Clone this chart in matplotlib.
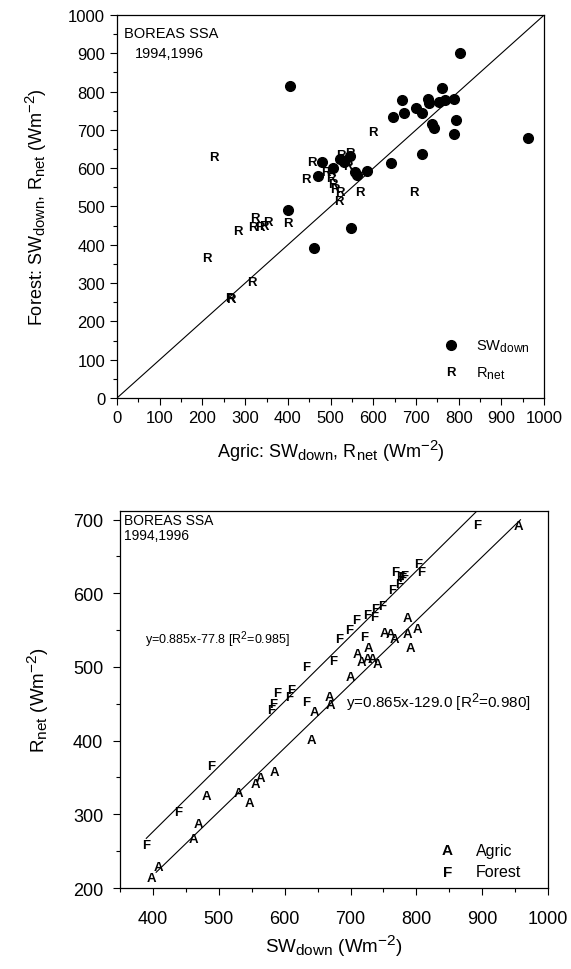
import numpy as np
import matplotlib
matplotlib.use("Agg")
import matplotlib.pyplot as plt
import matplotlib._mathtext as mathtext_mod
from matplotlib.ticker import MultipleLocator

plt.rcParams["font.family"] = ["Liberation Sans", "DejaVu Sans"]
plt.rcParams["mathtext.fontset"] = "custom"
plt.rcParams["mathtext.rm"] = "Liberation Sans"
plt.rcParams["mathtext.it"] = "Liberation Sans"
# subscripts in the original are nearly full size
mathtext_mod.SHRINK_FACTOR = 0.82

# --- top panel: agric vs forest, SW_down (dots) and R_net (letters R)
sw_agric = [405, 802, 760, 668, 728, 730, 754, 767, 789, 671, 645, 700, 714, 794, 737, 743,
            789, 962, 714, 641, 586, 557, 561, 547, 462, 400, 481, 471, 505, 522, 532, 545]
sw_forest = [814, 900, 809, 778, 781, 770, 774, 778, 781, 744, 733, 756, 743, 726, 715, 704,
             689, 679, 637, 613, 592, 589, 583, 443, 392, 492, 615, 580, 600, 625, 615, 632]

rn_agric = [227, 211, 263, 266, 315, 284, 323, 319, 335, 354, 343, 400, 457, 442, 600, 694,
            569, 522, 520, 488, 500, 505, 510, 525, 535, 545, 540, 500]
rn_forest = [628, 365, 260, 258, 302, 437, 470, 446, 446, 460, 450, 457, 615, 572, 695, 539,
             539, 539, 515, 590, 575, 560, 545, 635, 620, 640, 605, 590]

# --- bottom panel: SW_down vs R_net for each site
agric_sw = [398, 408, 461, 470, 481, 530, 546, 556, 563, 585, 641, 645, 668, 670, 700, 710,
            716, 728, 726, 733, 741, 751, 761, 766, 786, 801, 786, 791, 955]
agric_rn = [214, 229, 267, 287, 325, 329, 316, 341, 349, 358, 401, 439, 459, 448, 486, 518,
            507, 525, 511, 511, 504, 546, 545, 538, 545, 551, 567, 526, 691]

forest_sw = [390, 438, 489, 579, 582, 588, 607, 610, 632, 632, 674, 683, 698, 709, 721, 726,
             736, 738, 748, 763, 768, 774, 779, 776, 781, 802, 807, 893]
forest_rn = [258, 303, 365, 441, 450, 464, 459, 468, 452, 500, 508, 538, 550, 563, 541, 571,
             568, 579, 583, 604, 629, 613, 620, 622, 624, 640, 629, 693]

fit_agric = (0.865, -129.0, 0.980)
fit_forest = (0.885, -77.8, 0.985)

fig = plt.figure(figsize=(5.71, 9.70), dpi=100)

# ---------------- top panel
ax1 = fig.add_axes([0.205, 0.5887, 0.748, 0.3948])
ax1.plot([0, 1000], [0, 1000], color="black", lw=0.8)
ax1.plot(sw_agric, sw_forest, "o", color="black", ms=7, mec="black")
for x, y in zip(rn_agric, rn_forest):
    ax1.text(x, y, "R", ha="center", va="center", fontsize=9.5, fontweight="bold")
ax1.set_xlim(0, 1000)
ax1.set_ylim(0, 1000)
ax1.xaxis.set_major_locator(MultipleLocator(100))
ax1.xaxis.set_minor_locator(MultipleLocator(50))
ax1.yaxis.set_major_locator(MultipleLocator(100))
ax1.yaxis.set_minor_locator(MultipleLocator(50))
ax1.set_xlabel(r"Agric: SW$_{\rm down}$, R$_{\rm net}$ (Wm$^{-2}$)", fontsize=13, labelpad=9)
ax1.set_ylabel(r"Forest: SW$_{\rm down}$, R$_{\rm net}$ (Wm$^{-2}$)", fontsize=13, labelpad=14)
ax1.text(16, 952, "BOREAS SSA", fontsize=10.5, va="center")
ax1.text(42, 900, "1994,1996", fontsize=10.5, va="center")
# legend
ax1.plot([782], [137], "o", color="black", ms=7)
ax1.text(840, 137, r"SW$_{\rm down}$", fontsize=10.5, va="center")
ax1.text(782, 67, "R", ha="center", va="center", fontsize=9.5, fontweight="bold")
ax1.text(840, 67, r"R$_{\rm net}$", fontsize=10.5, va="center")
ax1.tick_params(which="major", labelsize=12)

# ---------------- bottom panel
ax2 = fig.add_axes([0.210, 0.0835, 0.750, 0.389])
xs = np.array([390, 895])
ax2.plot(xs, fit_forest[0] * xs + fit_forest[1], color="black", lw=0.8)
xs = np.array([405, 958])
ax2.plot(xs, fit_agric[0] * xs + fit_agric[1], color="black", lw=0.8)
for x, y in zip(agric_sw, agric_rn):
    ax2.text(x, y, "A", ha="center", va="center", fontsize=9.5, fontweight="bold")
for x, y in zip(forest_sw, forest_rn):
    ax2.text(x, y, "F", ha="center", va="center", fontsize=9.5, fontweight="bold")
ax2.set_xlim(350, 1000)
ax2.set_ylim(200, 712)
ax2.xaxis.set_major_locator(MultipleLocator(100))
ax2.xaxis.set_minor_locator(MultipleLocator(50))
ax2.yaxis.set_major_locator(MultipleLocator(100))
ax2.yaxis.set_minor_locator(MultipleLocator(50))
ax2.set_xlabel(r"SW$_{\rm down}$ (Wm$^{-2}$)", fontsize=13.5, labelpad=4)
ax2.set_ylabel(r"R$_{\rm net}$ (Wm$^{-2}$)", fontsize=13.5, labelpad=16)
ax2.text(356, 699, "BOREAS SSA", fontsize=10, va="center")
ax2.text(356, 679, "1994,1996", fontsize=10, va="center")
ax2.text(388, 538, "y=%.3fx%.1f [R$^2$=%.3f]" % fit_forest, fontsize=9, va="center")
ax2.text(693, 452, "y=%.3fx%.1f [R$^2$=%.3f]" % fit_agric, fontsize=11, va="center")
ax2.text(847, 251, "A", ha="center", va="center", fontsize=11, fontweight="bold")
ax2.text(890, 251, "Agric", fontsize=11.5, va="center")
ax2.text(847, 222, "F", ha="center", va="center", fontsize=11, fontweight="bold")
ax2.text(890, 222, "Forest", fontsize=11.5, va="center")
ax2.tick_params(which="major", labelsize=13)
ax2.tick_params(axis="x", which="major", pad=11)
ax2.tick_params(axis="y", which="major", pad=7)

for ax in (ax1, ax2):
    ax.tick_params(which="major", direction="out", length=5, width=0.8)
    ax.tick_params(which="minor", direction="out", length=3, width=0.8)
    for s in ax.spines.values():
        s.set_linewidth(0.9)

fig.savefig("out.png", dpi=100)
